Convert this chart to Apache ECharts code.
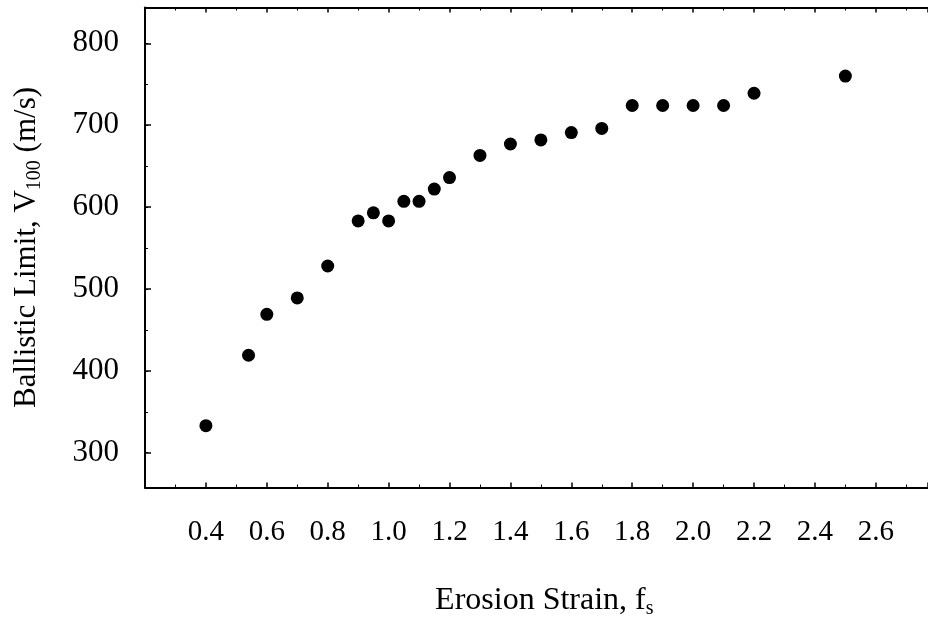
<!DOCTYPE html>
<html><head><meta charset="utf-8">
<script src="https://cdn.jsdelivr.net/npm/echarts@6/dist/echarts.min.js"></script>
<style>html,body{margin:0;padding:0;background:#fff}#c{width:928px;height:623px}</style>
</head><body><div id="c"></div>
<script>
const erosionStrain = [0.4, 0.54, 0.6, 0.7, 0.8, 0.9, 0.95, 1.0, 1.05, 1.1, 1.15, 1.2, 1.3, 1.4, 1.5, 1.6, 1.7, 1.8, 1.9, 2.0, 2.1, 2.2, 2.5];
const ballisticLimit = [333, 419, 469, 489, 528, 583, 593, 583, 607, 607, 622, 636, 663, 677, 682, 691, 696, 724, 724, 724, 724, 739, 760];
const xTickLabels = ['0.4','0.6','0.8','1.0','1.2','1.4','1.6','1.8','2.0','2.2','2.4','2.6'];
const yTickLabels = [300, 400, 500, 600, 700, 800];
const yMinorTicks = [300, 350, 400, 450, 500, 550, 600, 650, 700, 750, 800];

const FONT = 'Liberation Serif';
const chart = echarts.init(document.getElementById('c'), null, {renderer: 'canvas'});
const X_MIN = 0.2, X_MAX = 2.77, Y_MIN = 257.5, Y_MAX = 843.7;
const lineStyle = {color: '#000', width: 2};
chart.setOption({
  animation: false,
  backgroundColor: '#fff',
  grid: {left: 145, top: 7.5, width: 782.6, height: 480, outerBoundsMode: 'none'},
  xAxis: [{
    type: 'value', position: 'bottom', min: X_MIN, max: X_MAX, interval: 0.2,
    axisLine: {onZero: false, lineStyle},
    axisTick: {inside: true, length: 5, lineStyle: {color: '#000', width: 1.5}},
    minorTick: {show: true, splitNumber: 2, length: 3, lineStyle: {color: '#000', width: 1}},
    splitLine: {show: false},
    axisLabel: {
      margin: 30, color: '#000', fontFamily: FONT, fontSize: 29, showMaxLabel: false,
      formatter: v => xTickLabels.includes(v.toFixed(1)) ? v.toFixed(1) : ''
    },
    name: '{n|Erosion Strain, f}{s|s}',
    nameLocation: 'middle', nameGap: 95,
    nameTextStyle: {
      padding: [0, 0, 0, 16],
      rich: {
        n: {fontFamily: FONT, fontSize: 32, color: '#000', lineHeight: 36},
        s: {fontFamily: FONT, fontSize: 20, color: '#000', lineHeight: 16, verticalAlign: 'bottom'}
      }
    }
  }, {
    type: 'value', position: 'top', min: X_MIN, max: X_MAX, interval: 0.2,
    axisLine: {onZero: false, lineStyle},
    axisTick: {inside: true, length: 5, lineStyle: {color: '#000', width: 1.5}},
    minorTick: {show: true, splitNumber: 2, length: 3, lineStyle: {color: '#000', width: 1}},
    splitLine: {show: false},
    axisLabel: {show: false}
  }],
  yAxis: [{
    type: 'value', position: 'left', min: Y_MIN, max: Y_MAX,
    axisLine: {onZero: false, lineStyle},
    axisTick: {inside: true, length: 6, customValues: yTickLabels, lineStyle: {color: '#000', width: 1.5}},
    splitLine: {show: false},
    axisLabel: {
      margin: 26, color: '#000', fontFamily: FONT, fontSize: 31, padding: [10, 0, 0, 0],
      customValues: yTickLabels, formatter: v => String(v)
    },
    name: '{n|Ballistic Limit, V}{s|100}{n| (m/s)}',
    nameLocation: 'middle', nameGap: 100,
    nameTextStyle: {
      rich: {
        n: {fontFamily: FONT, fontSize: 31, color: '#000', lineHeight: 36},
        s: {fontFamily: FONT, fontSize: 20, color: '#000', lineHeight: 16, verticalAlign: 'bottom'}
      }
    }
  }, {
    type: 'value', position: 'left', min: Y_MIN, max: Y_MAX,
    axisLine: {show: false},
    axisTick: {inside: true, length: 3, customValues: yMinorTicks, lineStyle: {color: '#000', width: 1}},
    splitLine: {show: false},
    axisLabel: {show: false}
  }],
  series: [{
    type: 'scatter',
    xAxisIndex: 0, yAxisIndex: 0,
    symbol: 'circle', symbolSize: 13,
    itemStyle: {color: '#000', opacity: 1},
    data: erosionStrain.map((x, i) => [x, ballisticLimit[i]])
  }]
});
</script>
</body></html>
